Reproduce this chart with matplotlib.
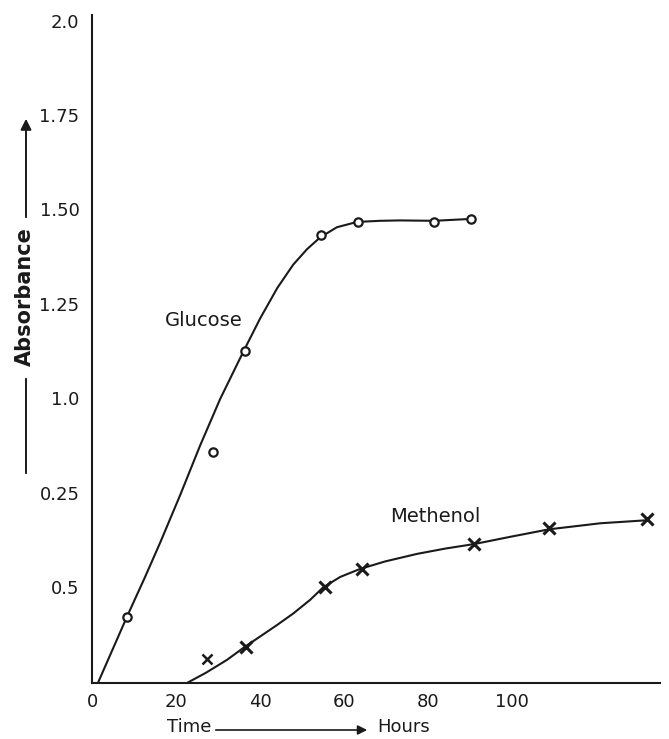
"""
Growth curves: Absorbance vs Time for Glucose and Methenol
"""

import matplotlib
matplotlib.use("Agg")
import matplotlib.pyplot as plt

# -----------------------------
# DATA
# -----------------------------

# Glucose measured points (open circles)
glucose_hours = [8.3, 28.8, 36.4, 54.5, 63.3, 81.4, 90.2]
glucose_abs = [0.422, 0.859, 1.125, 1.432, 1.468, 1.468, 1.475]

# Glucose hand-drawn curve
glucose_curve_hours = [1.4, 8.3, 12.6, 16.2, 21.0, 25.7, 30.5, 36.0, 40.0, 44.1, 47.9,
                       51.2, 54.3, 58.3, 63.1, 68.6, 73.3, 81.4, 90.2]
glucose_curve_abs = [0.246, 0.421, 0.526, 0.617, 0.744, 0.874, 0.998, 1.123, 1.211, 1.292, 1.354,
                     1.395, 1.426, 1.453, 1.467, 1.470, 1.471, 1.470, 1.475]

# Methenol measured points (crosses)
methenol_hours = [36.6, 55.5, 64.2, 91.0, 108.8, 132.1]
methenol_abs = [0.342, 0.501, 0.547, 0.614, 0.657, 0.680]

# stray point off the curve
methenol_extra_hours = [27.3]
methenol_extra_abs = [0.310]

# Methenol hand-drawn curve
methenol_curve_hours = [22.6, 27.1, 32.1, 36.4, 40.0, 44.1, 47.9, 51.9, 55.0, 59.1, 63.8,
                        69.8, 77.4, 84.1, 91.0, 99.5, 108.8, 121.0, 132.1]
methenol_curve_abs = [0.246, 0.273, 0.307, 0.342, 0.369, 0.400, 0.430, 0.466, 0.499, 0.527, 0.548,
                      0.568, 0.588, 0.602, 0.614, 0.633, 0.653, 0.669, 0.677]

# axis ticks (labels copied as printed, including the odd "0.25")
x_ticks = [0, 20, 40, 60, 80, 100]
y_ticks = [0.5, 0.75, 1.0, 1.25, 1.5, 1.75, 2.0]
y_tick_labels = ["0.5", "0.25", "1.0", "1.25", "1.50", "1.75", "2.0"]

# -----------------------------
# FIGURE SETUP
# -----------------------------

W, H = 669, 739
fig = plt.figure(figsize=(W / 100, H / 100), dpi=100)
ax = fig.add_axes([92 / W, 1 - 683 / H, (660 - 92) / W, (683 - 15) / H])

ink = "#1a1a1a"

# curves
ax.plot(glucose_curve_hours, glucose_curve_abs, color=ink, lw=1.5)
ax.plot(methenol_curve_hours, methenol_curve_abs, color=ink, lw=1.5)

# measured points
ax.plot(glucose_hours, glucose_abs, "o", ms=6, mfc="white", mec=ink, mew=1.6)
ax.plot(methenol_hours, methenol_abs, "x", ms=8, mec=ink, mew=2.2)
ax.plot(methenol_extra_hours, methenol_extra_abs, "x", ms=7, mec=ink, mew=1.8)

# curve names
ax.text(17.4, 1.207, "Glucose", fontsize=14, color=ink, va="center")
ax.text(71.0, 0.688, "Methenol", fontsize=14, color=ink, va="center")

# -----------------------------
# AXES
# -----------------------------

ax.set_xlim(0, 135.2)
ax.set_ylim(0.246, 2.015)
ax.set_xticks(x_ticks)
ax.set_yticks(y_ticks)
ax.set_yticklabels(y_tick_labels)
ax.tick_params(axis="both", length=0, labelsize=13, colors=ink)
ax.tick_params(axis="y", pad=9)
ax.tick_params(axis="x", pad=7)

for side in ["top", "right"]:
    ax.spines[side].set_visible(False)
for side in ["left", "bottom"]:
    ax.spines[side].set_linewidth(1.5)
    ax.spines[side].set_color(ink)


# helper: picture pixel (from top-left) -> figure pixels (from bottom-left)
def fp(x, y):
    return (x, H - y)


# y label with arrow
fig.text(25 / W, 1 - 297 / H, "Absorbance", rotation=90, fontsize=15,
         fontweight="bold", color=ink, ha="center", va="center")
ax.annotate("", xy=fp(26, 116), xytext=fp(26, 220), xycoords="figure pixels",
            textcoords="figure pixels",
            arrowprops=dict(arrowstyle="-|>", color=ink, lw=1.4, mutation_scale=16))
ax.annotate("", xy=fp(26, 376), xytext=fp(26, 476), xycoords="figure pixels",
            textcoords="figure pixels",
            arrowprops=dict(arrowstyle="-", color=ink, lw=1.4))

# x label with arrow
fig.text(167 / W, 1 - 727 / H, "Time", fontsize=13, color=ink, ha="left", va="center")
fig.text(377 / W, 1 - 727 / H, "Hours", fontsize=13, color=ink, ha="left", va="center")
ax.annotate("", xy=fp(370, 730), xytext=fp(213, 730), xycoords="figure pixels",
            textcoords="figure pixels",
            arrowprops=dict(arrowstyle="-|>", color=ink, lw=1.2, mutation_scale=14))

plt.savefig("out.png", dpi=100)
plt.close()
